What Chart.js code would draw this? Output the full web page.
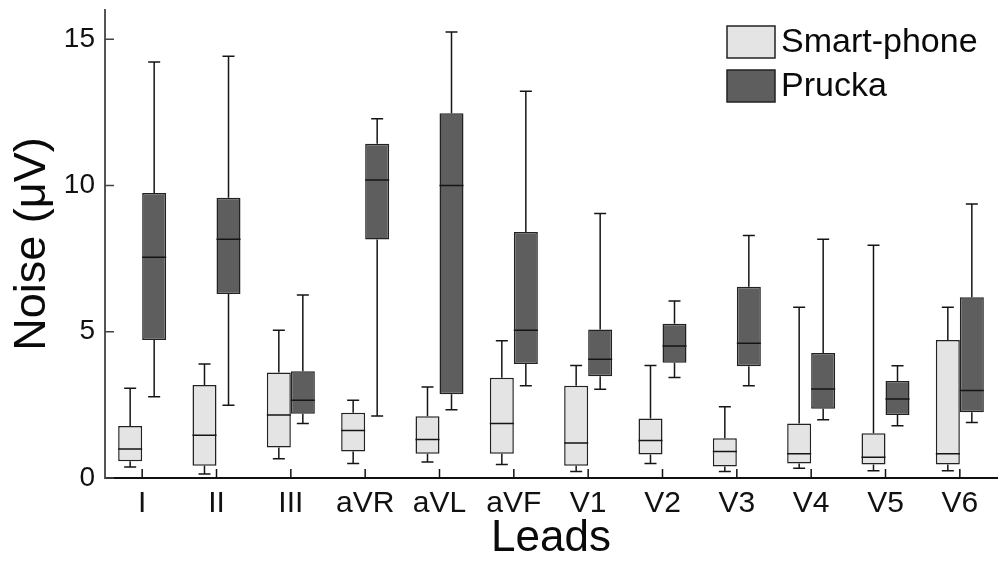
<!DOCTYPE html>
<html>
<head>
<meta charset="utf-8">
<script src="https://cdn.jsdelivr.net/npm/chart.js@4/dist/chart.umd.min.js"></script>
<style>
  html, body { margin: 0; padding: 0; background: #fff; }
  #wrap { width: 1000px; height: 565px; }
</style>
</head>
<body>
<div id="wrap"><canvas id="myChart" width="1000" height="565"></canvas></div>
<script>
// leads on the x axis
const leads = ['I', 'II', 'III', 'aVR', 'aVL', 'aVF', 'V1', 'V2', 'V3', 'V4', 'V5', 'V6'];
const yTicks = [0, 5, 10, 15];

// smart-phone noise (µV): whisker low, q1, median, q3, whisker high
const phoneMin = [0.38, 0.14, 0.66, 0.50, 0.55, 0.46, 0.22, 0.50, 0.22, 0.33, 0.25, 0.25];
const phoneQ1  = [0.57, 0.42, 1.04, 0.91, 0.83, 0.83, 0.42, 0.80, 0.39, 0.50, 0.46, 0.46];
const phoneMed = [0.99, 1.46, 2.15, 1.62, 1.32, 1.86, 1.20, 1.28, 0.91, 0.83, 0.71, 0.83];
const phoneQ3  = [1.78, 3.18, 3.61, 2.23, 2.11, 3.43, 3.15, 2.03, 1.36, 1.86, 1.53, 4.72];
const phoneMax = [3.07, 3.90, 5.05, 2.66, 3.11, 4.69, 3.85, 3.85, 2.44, 5.84, 7.96, 5.84];

// prucka noise (µV)
const pruckaMin = [2.78, 2.49, 1.86, 2.12, 2.33, 3.15, 3.03, 3.44, 3.15, 1.99, 1.79, 1.90];
const pruckaQ1  = [4.72, 6.29, 2.20, 8.15, 2.86, 3.90, 3.48, 3.94, 3.82, 2.37, 2.15, 2.25];
const pruckaMed = [7.55, 8.16, 2.66, 10.19, 10.00, 5.05, 4.06, 4.51, 4.61, 3.04, 2.70, 2.99];
const pruckaQ3  = [9.74, 9.58, 3.65, 11.43, 12.47, 8.41, 5.08, 5.27, 6.54, 4.27, 3.32, 6.18];
const pruckaMax = [14.22, 14.42, 6.26, 12.28, 15.25, 13.22, 9.04, 6.05, 8.29, 8.16, 3.84, 9.37];

const FONT = '"Liberation Sans", Arial, sans-serif';

// whiskers, caps and medians drawn on top of the floating bars
const boxWhiskers = {
    id: 'boxWhiskers',
    afterDatasetsDraw(chart) {
        const ctx = chart.ctx;
        const y = chart.scales.y;
        const stats = [
            {min: phoneMin, med: phoneMed, max: phoneMax, q1: phoneQ1, q3: phoneQ3},
            {min: pruckaMin, med: pruckaMed, max: pruckaMax, q1: pruckaQ1, q3: pruckaQ3}
        ];
        ctx.save();
        ctx.strokeStyle = '#151515';
        ctx.lineWidth = 1.5;
        chart.data.datasets.forEach((ds, d) => {
            const s = stats[d];
            chart.getDatasetMeta(d).data.forEach((bar, i) => {
                const x = bar.x;
                const half = bar.width / 2;
                const cap = bar.width * 0.25;
                const yMin = y.getPixelForValue(s.min[i]);
                const yMax = y.getPixelForValue(s.max[i]);
                const yQ1 = y.getPixelForValue(s.q1[i]);
                const yQ3 = y.getPixelForValue(s.q3[i]);
                const yMed = y.getPixelForValue(s.med[i]);
                ctx.beginPath();
                ctx.moveTo(x, yQ3); ctx.lineTo(x, yMax);
                ctx.moveTo(x - cap, yMax); ctx.lineTo(x + cap, yMax);
                ctx.moveTo(x, yQ1); ctx.lineTo(x, yMin);
                ctx.moveTo(x - cap, yMin); ctx.lineTo(x + cap, yMin);
                ctx.moveTo(x - half, yMed); ctx.lineTo(x + half, yMed);
                ctx.stroke();
            });
        });
        ctx.restore();
    },
    afterDraw(chart) {
        const ctx = chart.ctx;
        const area = chart.chartArea;
        const x = chart.scales.x, y = chart.scales.y;
        ctx.save();
        // inward tick marks
        ctx.lineWidth = 1.5;
        ctx.strokeStyle = '#444';
        ctx.beginPath();
        y.ticks.forEach(t => {
            const py = y.getPixelForValue(t.value);
            ctx.moveTo(area.left, py); ctx.lineTo(area.left + 9, py);
        });
        ctx.stroke();
        ctx.strokeStyle = '#111';
        ctx.beginPath();
        leads.forEach((l, i) => {
            const px = x.getPixelForValue(i);
            ctx.moveTo(px, area.bottom); ctx.lineTo(px, area.bottom - 9);
        });
        ctx.stroke();
        // legend
        ctx.font = '34px ' + FONT;
        ctx.textBaseline = 'middle';
        ctx.textAlign = 'left';
        chart.data.datasets.forEach((ds, d) => {
            const top = 26 + d * 44;
            ctx.fillStyle = ds.backgroundColor;
            ctx.fillRect(727, top, 48, 32);
            ctx.strokeStyle = '#222';
            ctx.lineWidth = 1.5;
            ctx.strokeRect(727, top, 48, 32);
            ctx.fillStyle = '#0a0a0a';
            ctx.fillText(ds.label, 781, top + 17);
        });
        ctx.restore();
    }
};

const chart = new Chart(document.getElementById('myChart').getContext('2d'), {
    type: 'bar',
    data: {
        labels: leads,
        datasets: [{
            label: 'Smart-phone',
            data: phoneQ1.map((v, i) => [v, phoneQ3[i]]),
            backgroundColor: '#e4e4e4',
            borderColor: '#222',
            borderWidth: 1.5,
            borderSkipped: false
        }, {
            label: 'Prucka',
            data: pruckaQ1.map((v, i) => [v, pruckaQ3[i]]),
            backgroundColor: '#5e5e5e',
            borderColor: '#222',
            borderWidth: 1.5,
            borderSkipped: false
        }]
    },
    options: {
        responsive: false,
        animation: false,
        devicePixelRatio: 1,
        categoryPercentage: 0.646,
        barPercentage: 1,
        layout: {padding: {left: 0, right: 3, top: 10, bottom: 0}},
        plugins: {legend: {display: false}, tooltip: {enabled: false}},
        scales: {
            x: {
                grid: {display: false, drawTicks: false},
                border: {color: '#111', width: 2},
                ticks: {color: '#111', padding: 8, font: {family: FONT, size: 30}, maxRotation: 0, autoSkip: false},
                title: {display: true, text: 'Leads', color: '#0a0a0a', font: {family: FONT, size: 44}, padding: {top: 0, bottom: 0}},
                afterFit(scale) {
                    scale.height = 87;
                    scale.paddingLeft = 0;
                    scale.paddingRight = 0;
                }
            },
            y: {
                min: 0,
                max: 16,
                grid: {display: false, drawTicks: false},
                border: {color: '#555', width: 2},
                afterBuildTicks(scale) {
                    scale.ticks = yTicks.map(v => ({value: v}));
                },
                ticks: {color: '#111', padding: 10, font: {family: FONT, size: 28}},
                title: {display: true, text: 'Noise (\u03bcV)', color: '#0a0a0a', font: {family: FONT, size: 45}, padding: {top: 6, bottom: 0}},
                afterFit(scale) {
                    scale.width = 105;
                    scale.paddingTop = 0;
                    scale.paddingBottom = 0;
                }
            }
        }
    },
    plugins: [boxWhiskers]
});
</script>
</body>
</html>
